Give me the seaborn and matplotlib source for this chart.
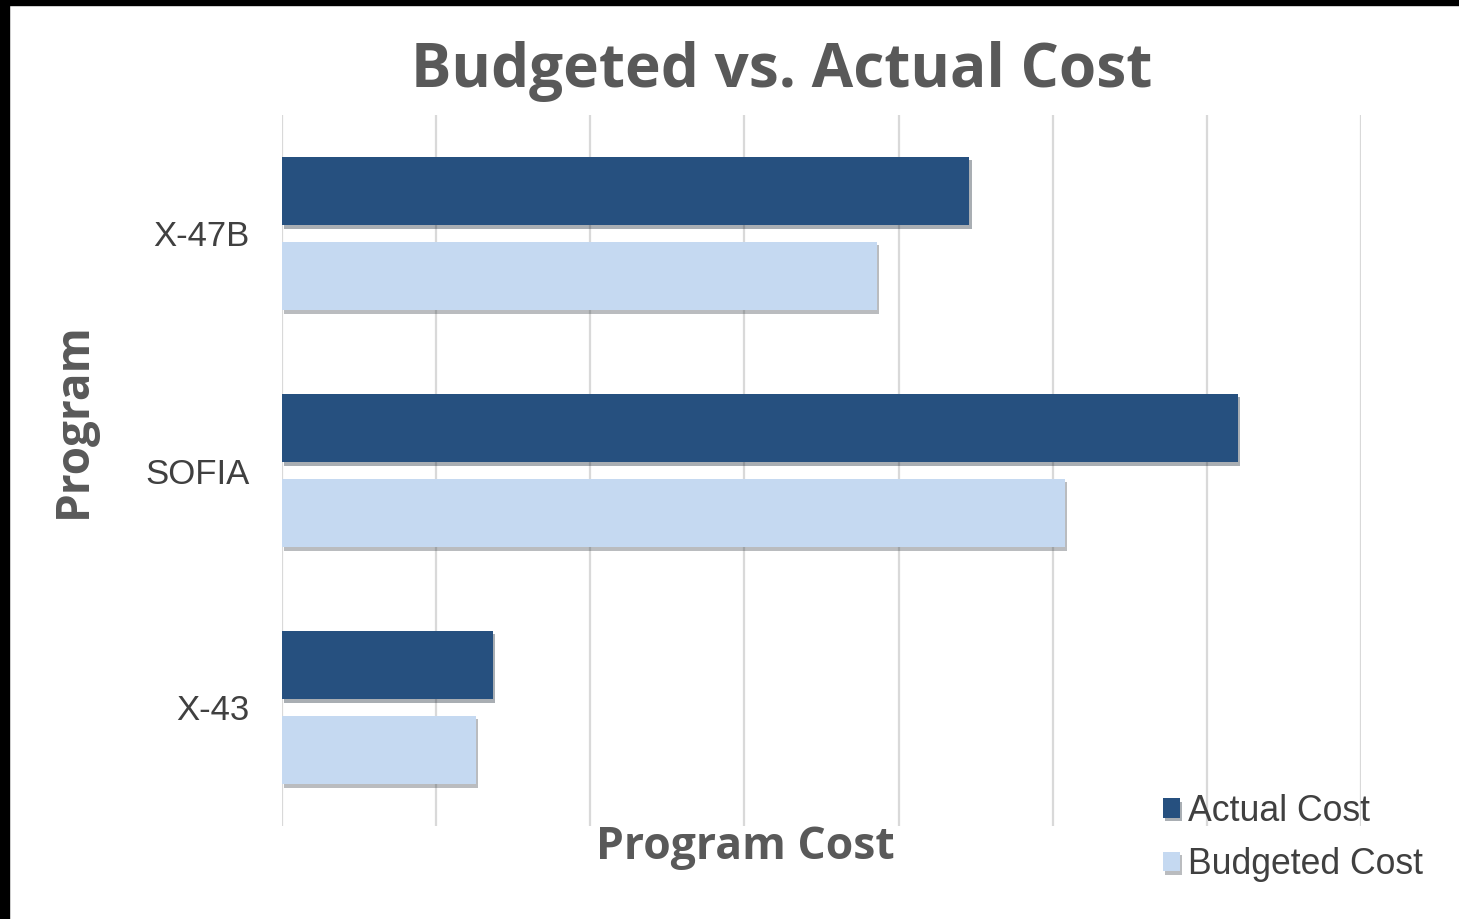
import pandas as pd
import matplotlib.pyplot as plt
import matplotlib.patheffects as pe
from matplotlib.patches import Rectangle
import seaborn as sns

# values (one gridline = 1 unit, no tick labels shown)
programs = ['X-47B', 'SOFIA', 'X-43']
actual_cost = [4.46, 6.20, 1.37]
budgeted_cost = [3.86, 5.08, 1.26]
series = ['Actual Cost', 'Budgeted Cost']

df = pd.DataFrame({
    'Program': programs * 2,
    'Cost': actual_cost + budgeted_cost,
    'Series': [series[0]] * 3 + [series[1]] * 3,
})

sns.set_style('white')
plt.rcParams['font.family'] = ['Liberation Sans', 'DejaVu Sans']

fig = plt.figure(figsize=(14.59, 9.19), dpi=100)
ax = fig.add_axes([282 / 1459, 1 - 826 / 919, (1361 - 282) / 1459, (826 - 115) / 919])

sns.barplot(data=df, y='Program', x='Cost', hue='Series', order=programs,
            hue_order=series, palette=['#26507F', '#C5D9F1'], orient='h',
            width=0.717, gap=0.19, ax=ax, saturation=1, edgecolor='none')

shadow = [pe.SimplePatchShadow(offset=(1.5, -2.5), alpha=0.35), pe.Normal()]
for bar in ax.patches:
    bar.set_path_effects(shadow)

ax.set_xlim(0, 7)
ax.set_ylim(2.5, -0.5)
ax.set_xticks(range(0, 8))
ax.set_xticklabels([])
ax.grid(axis='x', color='#D9D9D9', linewidth=1.6)
ax.set_axisbelow(True)
ax.tick_params(axis='both', length=0)
ax.tick_params(axis='y', labelsize=25, labelcolor='#404040', pad=23.5)
for s in ax.spines.values():
    s.set_visible(False)

ax.set_ylabel('Program', fontsize=33, fontweight='bold', color='#595959',
              family=['Open Sans', 'DejaVu Sans'])
ax.yaxis.set_label_coords((97 - 282) / (1361 - 282), (826 - 420) / (826 - 115))
ax.set_xlabel('Program Cost', fontsize=32, fontweight='bold', color='#595959',
              family=['Open Sans', 'DejaVu Sans'])
ax.xaxis.set_label_coords((745 - 282) / (1361 - 282), -(848 - 826) / (826 - 115))
ax.xaxis.label.set_va('center')

fig.text(782 / 1459, 1 - 71 / 919, 'Budgeted vs. Actual Cost', ha='center', va='center',
         fontsize=43.4, fontweight='bold', color='#595959', family=['Open Sans', 'DejaVu Sans'])

ax.legend(loc='center left', bbox_to_anchor=(1163 / 1459, 1 - 838 / 919),
          bbox_transform=fig.transFigure, frameon=False, fontsize=25.7,
          labelcolor='#404040', handlelength=0.47, handleheight=0.47,
          handletextpad=0.22, labelspacing=0.52, borderaxespad=0, borderpad=0)

# black frame on the top and left edge of the image
fig.patches.append(Rectangle((0, 1 - 5 / 919), 1, 5 / 919, transform=fig.transFigure,
                             color='black', zorder=10))
fig.patches.append(Rectangle((0, 0), 9 / 1459, 1, transform=fig.transFigure,
                             color='black', zorder=10))

plt.savefig('out.png', dpi=100)
